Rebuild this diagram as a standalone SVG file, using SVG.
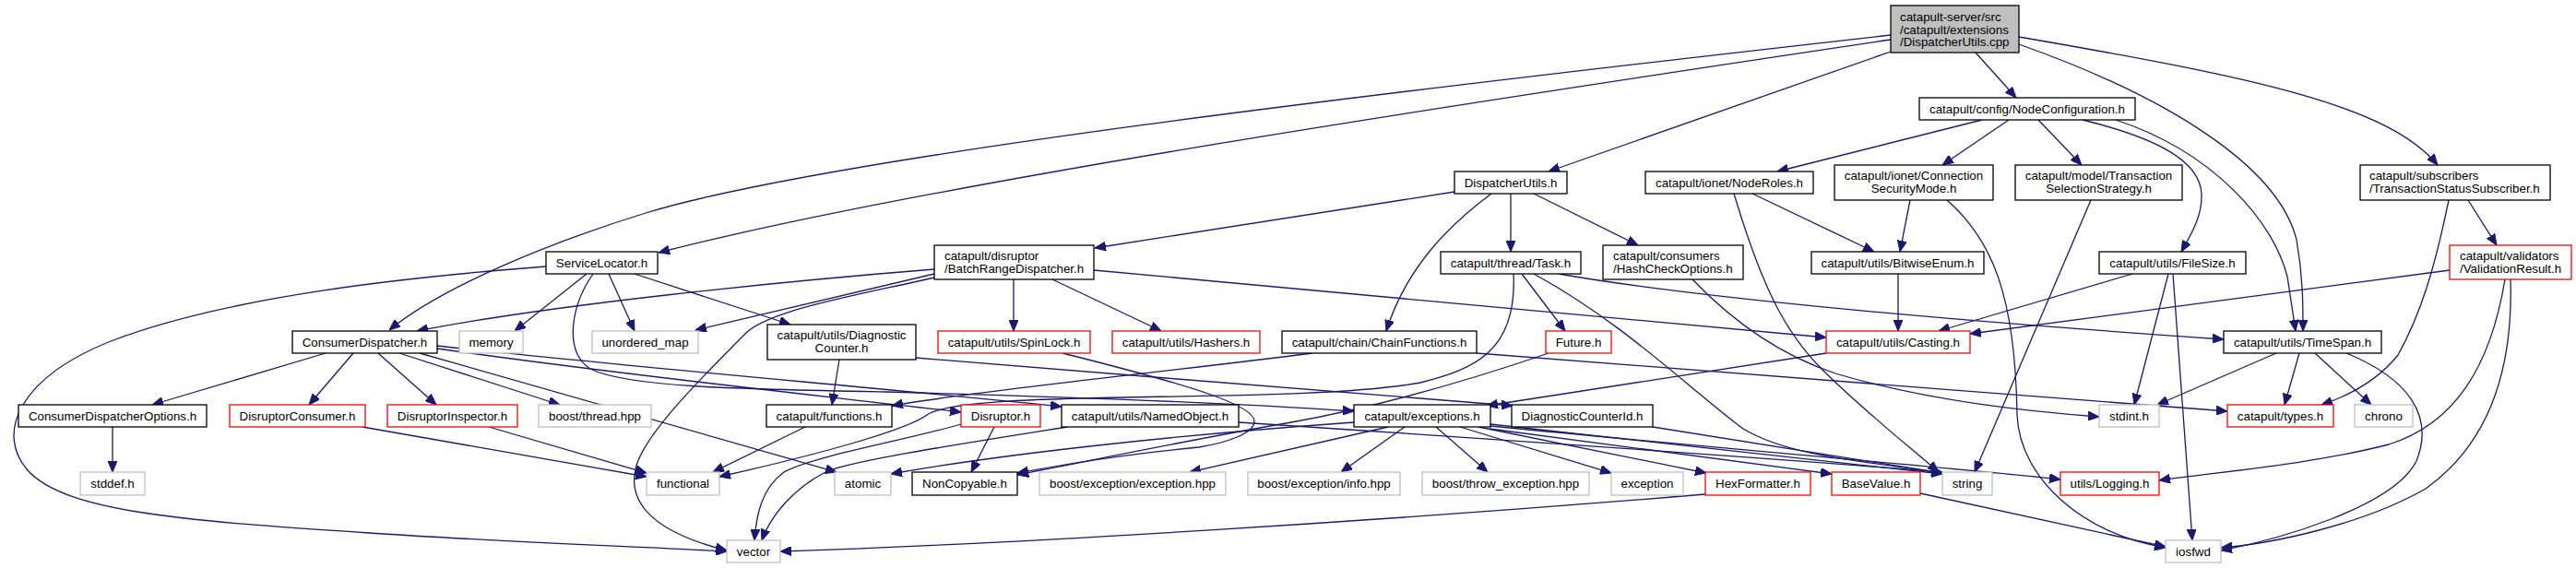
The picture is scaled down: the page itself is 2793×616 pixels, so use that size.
<svg xmlns="http://www.w3.org/2000/svg" width="2793" height="616" viewBox="0 0 2793 616">
<style>
rect{fill:#fff;stroke:#000;stroke-width:1.3}
.g rect{stroke:#bfbfbf}
.r rect{stroke:#f00}
.m rect{fill:#bfbfbf}
text{font-family:"Liberation Sans",Arial,Helvetica,sans-serif;font-size:13.33px;fill:#000}
.c{text-anchor:middle}
#edges path{fill:none;stroke:#191970;stroke-width:1.3;marker-end:url(#ah)}
</style>
<defs>
<marker id="ah" markerUnits="userSpaceOnUse" markerWidth="12" markerHeight="10" refX="12" refY="5" orient="auto">
<path d="M0,0 L12,5 L0,10 z" fill="#191970" stroke="#191970" stroke-width="1"/>
</marker>
</defs>
<rect x="0" y="0" width="2793" height="616" style="fill:#fff;stroke:none"/>
<g id="edges">
<path d="M2050,38 C1500,100 900,170 700,231 C600,262 480,310 422,358"/>
<path d="M2050,43 C1600,110 1000,200 714,274"/>
<path d="M2050,56 L1679,186"/>
<path d="M2142,57 L2186,106"/>
<path d="M2189,40 C2450,85 2590,115 2643,179"/>
<path d="M2189,48 C2350,105 2470,180 2490,260 C2497,300 2497,330 2497,359"/>
<path d="M2149,130 L1927,186"/>
<path d="M2178,130 L2106,179"/>
<path d="M2210,130 L2257,179"/>
<path d="M2258,130 C2340,150 2385,175 2387,210 C2388,235 2375,255 2365,273"/>
<path d="M2294,130 C2400,165 2465,240 2480,300 L2489,359"/>
<path d="M1577,208 L1187,269"/>
<path d="M1617,210 C1570,245 1525,290 1503,359"/>
<path d="M1638,210 L1638,273"/>
<path d="M1663,210 L1776,266"/>
<path d="M1900,210 L2032,273"/>
<path d="M1880,210 C1910,310 1935,360 1975,400 C2020,445 2065,480 2102,512"/>
<path d="M2071,217 L2060,273"/>
<path d="M2111,217 C2160,260 2185,320 2187,450 C2190,520 2260,580 2348,594"/>
<path d="M2267,217 L2141,512"/>
<path d="M2058,297 L2058,359"/>
<path d="M2312,297 L2102,359"/>
<path d="M2351,297 L2314,439"/>
<path d="M2356,297 L2377,586"/>
<path d="M2676,217 L2707,266"/>
<path d="M2655,217 C2640,290 2625,340 2600,385 C2580,410 2550,428 2517,439"/>
<path d="M2656,293 L2136,362"/>
<path d="M2716,303 C2700,400 2660,460 2590,482 C2500,505 2400,512 2341,521"/>
<path d="M2722,303 C2725,400 2700,480 2630,530 C2560,570 2460,590 2408,594"/>
<path d="M2468,383 L2339,439"/>
<path d="M2493,383 L2477,439"/>
<path d="M2510,383 L2571,439"/>
<path d="M2544,383 C2610,410 2640,450 2620,500 C2595,550 2470,585 2408,597"/>
<path d="M1650,297 L1697,359"/>
<path d="M1690,297 C1850,325 2150,350 2411,368"/>
<path d="M1663,297 C1760,350 1830,420 1890,465 C1940,495 2020,500 2106,513"/>
<path d="M1641,297 C1645,380 1600,400 1540,415 C1400,440 1050,420 1005,450 C985,465 900,490 780,517"/>
<path d="M1099,303 L1099,359"/>
<path d="M1141,303 L1259,359"/>
<path d="M1186,293 L1980,366"/>
<path d="M1013,292 C850,305 600,330 452,359"/>
<path d="M1013,297 L754,358"/>
<path d="M1013,301 C930,320 840,335 810,360 C760,410 700,470 690,505 C680,540 700,575 788,597"/>
<path d="M636,297 L558,359"/>
<path d="M660,297 L688,359"/>
<path d="M592,289 C450,300 250,320 120,370 C20,410 -5,470 30,510 C70,555 200,565 400,578 C550,588 700,593 788,598"/>
<path d="M688,297 L857,352"/>
<path d="M643,297 C620,330 610,380 640,400 C680,420 800,422 960,425 C1150,430 1350,438 1468,446"/>
<path d="M353,383 L165,439"/>
<path d="M383,383 L335,439"/>
<path d="M410,383 L473,439"/>
<path d="M433,383 L607,439"/>
<path d="M455,383 L907,512"/>
<path d="M474,378 C700,410 900,430 1042,447"/>
<path d="M474,375 C700,400 950,420 1151,441"/>
<path d="M122,463 L122,512"/>
<path d="M393,463 L701,517"/>
<path d="M530,463 L701,513"/>
<path d="M873,463 L773,512"/>
<path d="M910,390 L902,439"/>
<path d="M993,388 C1200,405 1450,425 1640,440"/>
<path d="M1423,383 C1250,405 1050,425 967,440"/>
<path d="M1601,383 L2415,446"/>
<path d="M1078,463 L1053,512"/>
<path d="M1042,460 C980,478 880,495 850,512 C825,530 820,560 818,586"/>
<path d="M1157,463 C1050,480 920,500 895,512 C860,530 835,560 826,586"/>
<path d="M1343,458 C1600,475 1900,495 2106,512"/>
<path d="M1152,383 C1300,420 1360,440 1360,457 C1360,470 1330,480 1300,485 C1200,495 1150,505 1103,513"/>
<path d="M1679,383 C1600,410 1500,440 1400,458 C1300,475 1180,500 1103,515"/>
<path d="M1468,458 C1300,470 1100,490 966,514"/>
<path d="M1505,463 L1290,512"/>
<path d="M1523,463 L1454,512"/>
<path d="M1557,463 L1613,512"/>
<path d="M1583,463 L1747,513"/>
<path d="M1603,463 L1850,513"/>
<path d="M1615,465 L1986,514"/>
<path d="M1616,460 L2106,514"/>
<path d="M1616,462 C1900,490 2150,510 2234,520"/>
<path d="M1792,463 L2106,513"/>
<path d="M1849,536 C1500,565 1100,590 846,598"/>
<path d="M2082,535 L2348,593"/>
<path d="M1980,383 L1612,440"/>
<path d="M1835,303 C1880,350 1930,385 1990,405 C2080,432 2180,445 2276,452"/>
</g>
<g id="n_main" class="m"><rect x="2050" y="6" width="139" height="51"/><text x="2060" y="23">catapult-server/src</text><text x="2060" y="36.5">/catapult/extensions</text><text x="2060" y="50">/DispatcherUtils.cpp</text></g>
<g id="n_nodeconfig"><rect x="2081" y="106" width="234" height="24"/><text class="c" x="2198" y="123">catapult/config/NodeConfiguration.h</text></g>
<g id="n_dispatcherutils_h"><rect x="1577" y="186" width="122" height="24"/><text class="c" x="1638" y="203">DispatcherUtils.h</text></g>
<g id="n_noderoles"><rect x="1784" y="186" width="182" height="24"/><text class="c" x="1875" y="203">catapult/ionet/NodeRoles.h</text></g>
<g id="n_secmode"><rect x="1989" y="179" width="172" height="38"/><text class="c" x="2075" y="195">catapult/ionet/Connection</text><text class="c" x="2075" y="208.5">SecurityMode.h</text></g>
<g id="n_tss"><rect x="2185" y="179" width="181" height="38"/><text class="c" x="2275.5" y="195">catapult/model/Transaction</text><text class="c" x="2275.5" y="208.5">SelectionStrategy.h</text></g>
<g id="n_subscriber"><rect x="2559" y="179" width="206" height="38"/><text x="2569" y="195">catapult/subscribers</text><text x="2569" y="208.5">/TransactionStatusSubscriber.h</text></g>
<g id="n_servicelocator"><rect x="592" y="273" width="121" height="24"/><text class="c" x="652.5" y="290">ServiceLocator.h</text></g>
<g id="n_batchrange"><rect x="1013" y="266" width="173" height="37"/><text x="1024" y="282">catapult/disruptor</text><text x="1024" y="295.5">/BatchRangeDispatcher.h</text></g>
<g id="n_task"><rect x="1562" y="273" width="152" height="24"/><text class="c" x="1638" y="290">catapult/thread/Task.h</text></g>
<g id="n_hashcheck"><rect x="1738" y="266" width="152" height="37"/><text x="1749" y="282">catapult/consumers</text><text x="1749" y="295.5">/HashCheckOptions.h</text></g>
<g id="n_bitwise"><rect x="1964" y="273" width="187" height="24"/><text class="c" x="2057.5" y="290">catapult/utils/BitwiseEnum.h</text></g>
<g id="n_filesize"><rect x="2276" y="273" width="159" height="24"/><text class="c" x="2355.5" y="290">catapult/utils/FileSize.h</text></g>
<g id="n_validationresult" class="r"><rect x="2656" y="266" width="132" height="37"/><text x="2667" y="282">catapult/validators</text><text x="2667" y="295.5">/ValidationResult.h</text></g>
<g id="n_consumerdispatcher"><rect x="317" y="359" width="157" height="24"/><text class="c" x="395.5" y="376">ConsumerDispatcher.h</text></g>
<g id="n_memory" class="g"><rect x="498" y="359" width="69" height="24"/><text class="c" x="532.5" y="376">memory</text></g>
<g id="n_unordered_map" class="g"><rect x="642" y="359" width="115" height="24"/><text class="c" x="699.5" y="376">unordered_map</text></g>
<g id="n_diagcounter"><rect x="832" y="352" width="161" height="38"/><text class="c" x="912.5" y="368">catapult/utils/Diagnostic</text><text class="c" x="912.5" y="381.5">Counter.h</text></g>
<g id="n_spinlock" class="r"><rect x="1017" y="359" width="165" height="24"/><text class="c" x="1099.5" y="376">catapult/utils/SpinLock.h</text></g>
<g id="n_hashers" class="r"><rect x="1206" y="359" width="160" height="24"/><text class="c" x="1286" y="376">catapult/utils/Hashers.h</text></g>
<g id="n_chainfunctions"><rect x="1390" y="359" width="211" height="24"/><text class="c" x="1495.5" y="376">catapult/chain/ChainFunctions.h</text></g>
<g id="n_future" class="r"><rect x="1676" y="359" width="71" height="24"/><text class="c" x="1711.5" y="376">Future.h</text></g>
<g id="n_casting" class="r"><rect x="1980" y="359" width="156" height="24"/><text class="c" x="2058" y="376">catapult/utils/Casting.h</text></g>
<g id="n_timespan"><rect x="2411" y="359" width="171" height="24"/><text class="c" x="2496.5" y="376">catapult/utils/TimeSpan.h</text></g>
<g id="n_cdoptions"><rect x="20" y="439" width="204" height="24"/><text class="c" x="122" y="456">ConsumerDispatcherOptions.h</text></g>
<g id="n_disruptorconsumer" class="r"><rect x="249" y="439" width="147" height="24"/><text class="c" x="322.5" y="456">DisruptorConsumer.h</text></g>
<g id="n_disruptorinspector" class="r"><rect x="420" y="439" width="141" height="24"/><text class="c" x="490.5" y="456">DisruptorInspector.h</text></g>
<g id="n_boostthread" class="g"><rect x="584" y="439" width="122" height="24"/><text class="c" x="645" y="456">boost/thread.hpp</text></g>
<g id="n_functions"><rect x="831" y="439" width="136" height="24"/><text class="c" x="899" y="456">catapult/functions.h</text></g>
<g id="n_disruptor" class="r"><rect x="1042" y="439" width="86" height="24"/><text class="c" x="1085" y="456">Disruptor.h</text></g>
<g id="n_namedobject"><rect x="1151" y="439" width="192" height="24"/><text class="c" x="1247" y="456">catapult/utils/NamedObject.h</text></g>
<g id="n_exceptions"><rect x="1468" y="439" width="148" height="24"/><text class="c" x="1542" y="456">catapult/exceptions.h</text></g>
<g id="n_diagcounterid"><rect x="1639" y="439" width="153" height="24"/><text class="c" x="1715.5" y="456">DiagnosticCounterId.h</text></g>
<g id="n_stdint" class="g"><rect x="2276" y="439" width="65" height="24"/><text class="c" x="2308.5" y="456">stdint.h</text></g>
<g id="n_types" class="r"><rect x="2415" y="439" width="115" height="24"/><text class="c" x="2472.5" y="456">catapult/types.h</text></g>
<g id="n_chrono" class="g"><rect x="2553" y="439" width="63" height="24"/><text class="c" x="2584.5" y="456">chrono</text></g>
<g id="n_stddef" class="g"><rect x="87" y="512" width="70" height="25"/><text class="c" x="122" y="529">stddef.h</text></g>
<g id="n_functional" class="g"><rect x="701" y="512" width="79" height="25"/><text class="c" x="740.5" y="529">functional</text></g>
<g id="n_atomic" class="g"><rect x="905" y="512" width="61" height="25"/><text class="c" x="935.5" y="529">atomic</text></g>
<g id="n_noncopyable"><rect x="989" y="512" width="114" height="25"/><text class="c" x="1046" y="529">NonCopyable.h</text></g>
<g id="n_boostexc" class="g"><rect x="1127" y="512" width="202" height="25"/><text class="c" x="1228" y="529">boost/exception/exception.hpp</text></g>
<g id="n_boostinfo" class="g"><rect x="1353" y="512" width="165" height="25"/><text class="c" x="1435.5" y="529">boost/exception/info.hpp</text></g>
<g id="n_boostthrow" class="g"><rect x="1542" y="512" width="181" height="25"/><text class="c" x="1632.5" y="529">boost/throw_exception.hpp</text></g>
<g id="n_exception" class="g"><rect x="1747" y="512" width="78" height="25"/><text class="c" x="1786" y="529">exception</text></g>
<g id="n_hexformatter" class="r"><rect x="1849" y="512" width="114" height="25"/><text class="c" x="1906" y="529">HexFormatter.h</text></g>
<g id="n_basevalue" class="r"><rect x="1986" y="512" width="96" height="25"/><text class="c" x="2034" y="529">BaseValue.h</text></g>
<g id="n_string" class="g"><rect x="2106" y="512" width="54" height="25"/><text class="c" x="2133" y="529">string</text></g>
<g id="n_logging" class="r"><rect x="2234" y="512" width="107" height="25"/><text class="c" x="2287.5" y="529">utils/Logging.h</text></g>
<g id="n_vector" class="g"><rect x="788" y="586" width="58" height="24"/><text class="c" x="817" y="603">vector</text></g>
<g id="n_iosfwd" class="g"><rect x="2348" y="586" width="60" height="24"/><text class="c" x="2378" y="603">iosfwd</text></g>
</svg>
